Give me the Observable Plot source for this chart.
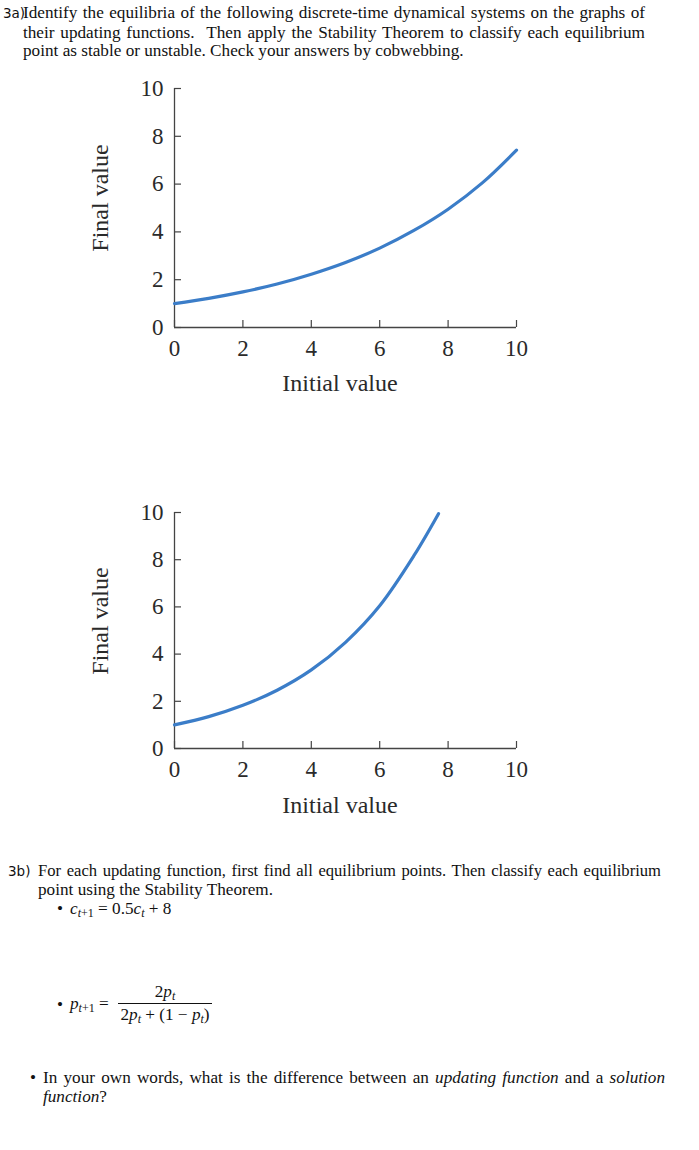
<!DOCTYPE html>
<html>
<head>
<meta charset="utf-8">
<script src="https://cdn.jsdelivr.net/npm/d3@7"></script>
<script src="https://cdn.jsdelivr.net/npm/@observablehq/plot@0.6"></script>
<style>
  html, body { margin: 0; padding: 0; background: #fff; }
  body { width: 699px; height: 1150px; position: relative; overflow: hidden;
         font-family: "Liberation Serif", serif; color: #111; }
  .abs { position: absolute; white-space: nowrap; line-height: 20px; }
  .t { font-size: 17.2px; }
  .just { text-align: justify; text-align-last: justify; white-space: normal; }
  .lbl { font-family: "DejaVu Sans", sans-serif; font-size: 13.5px; }
  .ax { font-size: 24px; color: #2a2a2a; line-height: 28px; }
  .m { font-style: italic; }
  sub { font-size: 70%; vertical-align: -3px; line-height: 0; }
  .chart { position: absolute; left: 0; }
</style>
</head>
<body>
<div class="abs lbl" style="left:3px; top:3px;">3a)</div>
<div class="abs t just" style="left:23px; top:3px; width:622px;">Identify the equilibria of the following discrete-time dynamical systems on the graphs of</div>
<div class="abs t just" style="left:23px; top:23px; width:622px;">their updating functions. &nbsp;Then apply the Stability Theorem to classify each equilibrium</div>
<div class="abs t" style="left:23px; top:41px;">point as stable or unstable. Check your answers by cobwebbing.</div>

<div id="chart1" class="chart" style="top:60px;"></div>
<div class="abs ax" style="left:340px; top:369px; transform:translateX(-50%);">Initial value</div>
<div class="abs ax" style="left:100px; top:198px; transform:translate(-50%,-50%) rotate(-90deg);">Final value</div>

<div id="chart2" class="chart" style="top:484px;"></div>
<div class="abs ax" style="left:340px; top:791px; transform:translateX(-50%);">Initial value</div>
<div class="abs ax" style="left:100px; top:621px; transform:translate(-50%,-50%) rotate(-90deg);">Final value</div>

<div class="abs lbl" style="left:8px; top:861px;">3b)</div>
<div class="abs t just" style="left:38px; top:861px; width:623px; font-size:16.6px;">For each updating function, first find all equilibrium points. Then classify each equilibrium</div>
<div class="abs t" style="left:38px; top:880px;">point using the Stability Theorem.</div>
<div class="abs t" style="left:57px; top:899px;">•</div>
<div class="abs t" style="left:70px; top:899px;"><span class="m">c</span><sub><span class="m">t</span>+1</sub> = 0.5<span class="m">c</span><sub class="m">t</sub> + 8</div>

<div class="abs t" style="left:57px; top:995px;">•</div>
<div class="abs t" style="left:70px; top:994px;"><span class="m">p</span><sub><span class="m">t</span>+1</sub> =</div>
<div class="abs t" style="left:118px; top:982px; width:94px; text-align:center;">2<span class="m">p</span><sub class="m">t</sub></div>
<div style="position:absolute; left:118px; top:1003px; width:94px; height:1px; background:#111;"></div>
<div class="abs t" style="left:118px; top:1005px; width:94px; text-align:center;">2<span class="m">p</span><sub class="m">t</sub> + (1 − <span class="m">p</span><sub class="m">t</sub>)</div>

<div class="abs t" style="left:30px; top:1068px;">•</div>
<div class="abs t just" style="left:43px; top:1068px; width:622px;">In your own words, what is the difference between an <span class="m">updating function</span> and a <span class="m">solution</span></div>
<div class="abs t" style="left:43px; top:1087px;"><span class="m">function</span>?</div>

<script>
// Chart 1: updating function
const initial1 = [0, 1, 2, 3, 4, 5, 6, 7, 8, 9, 10];
const final1   = [1.0, 1.22, 1.49, 1.82, 2.23, 2.72, 3.32, 4.06, 4.95, 6.05, 7.42];
// Chart 2
const initial2 = [0, 1, 2, 3, 4, 5, 6, 7, 7.72];
const final2   = [1.0, 1.35, 1.83, 2.47, 3.33, 4.5, 6.05, 8.17, 9.95];
const xTicks = [0, 2, 4, 6, 8, 10];
const yTicks = [0, 2, 4, 6, 8, 10];

const axisColor = "#444";
const lineColor = "#3b7dc8";

function makeChart(xs, ys, height) {
  const data = xs.map((x, i) => ({x, y: ys[i]}));
  return Plot.plot({
    width: 560,
    height,
    marginLeft: 174,
    marginRight: 44,
    marginTop: 28,
    marginBottom: 83,
    style: {fontFamily: "Liberation Serif, serif", fontSize: "23px", color: "#2a2a2a", background: "transparent", overflow: "visible"},
    x: {domain: [0, 10]},
    y: {domain: [0, 10]},
    marks: [
      Plot.axisX({ticks: xTicks, tickSize: -7, tickPadding: 19, label: null, stroke: axisColor, fontSize: 23, strokeWidth: 1.2}),
      Plot.axisY({ticks: yTicks, tickSize: -7, tickPadding: 18, label: null, stroke: axisColor, fontSize: 23, strokeWidth: 1.2}),
      Plot.ruleX([0], {stroke: axisColor, strokeWidth: 1.3}),
      Plot.ruleY([0], {stroke: axisColor, strokeWidth: 1.3}),
      Plot.line(data, {x: "x", y: "y", stroke: lineColor, strokeWidth: 3.2, curve: "catmull-rom"})
    ]
  });
}

document.getElementById("chart1").append(makeChart(initial1, final1, 350));
document.getElementById("chart2").append(makeChart(initial2, final2, 347));
</script>
</body>
</html>
